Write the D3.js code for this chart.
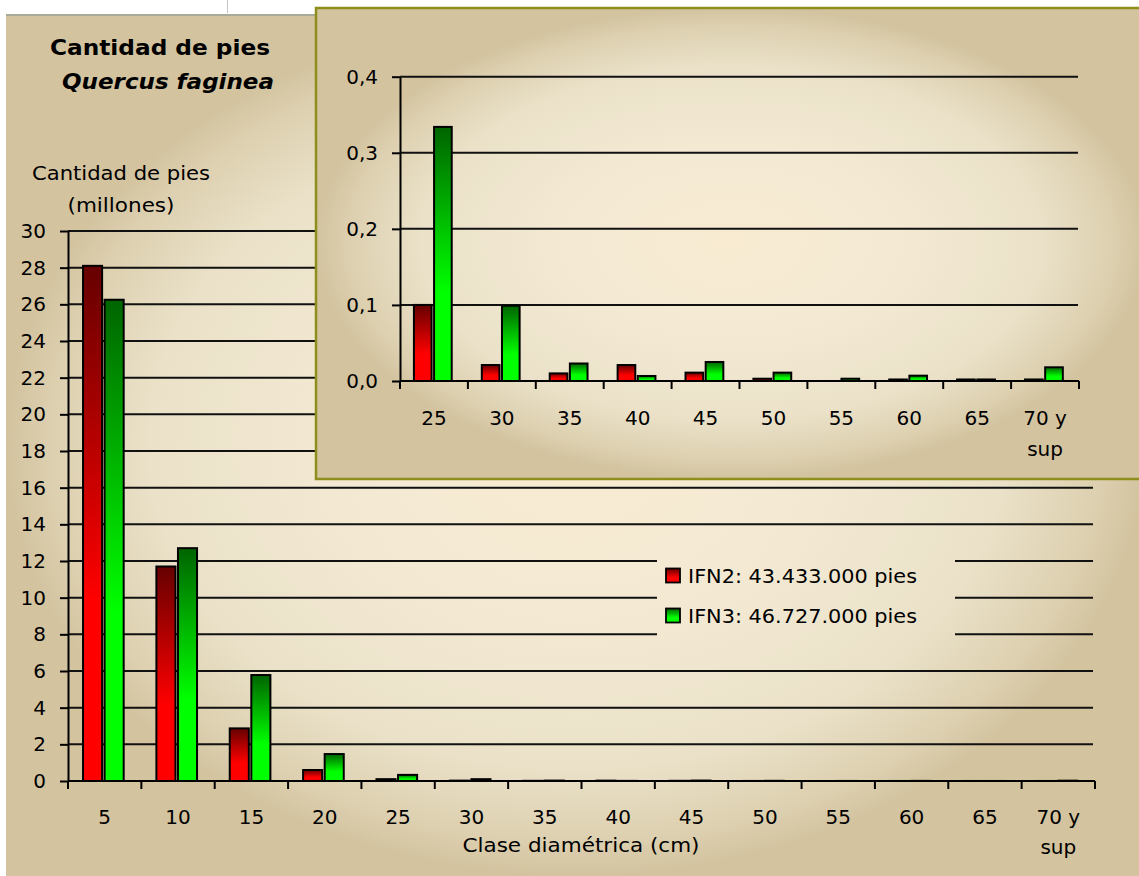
<!DOCTYPE html>
<html>
<head>
<meta charset="utf-8">
<script src="https://cdn.jsdelivr.net/npm/d3@7"></script>
<style>
  html, body { margin: 0; padding: 0; background: #ffffff; }
  svg { display: block; }
  text { font-family: "DejaVu Sans", "Liberation Sans", sans-serif; fill: #000; }
</style>
</head>
<body>
<svg id="chart" width="1139" height="876"></svg>
<script>
// Diameter classes (cm)
const categories = ["5", "10", "15", "20", "25", "30", "35", "40", "45", "50", "55", "60", "65", "70 y sup"];
// Number of trees per class, in millions
const ifn2 = [28.1, 11.7, 2.87, 0.6, 0.10, 0.021, 0.010, 0.021, 0.011, 0.003, 0, 0.002, 0.002, 0.002];
const ifn3 = [26.25, 12.7, 5.78, 1.47, 0.334, 0.099, 0.023, 0.0066, 0.025, 0.011, 0.003, 0.007, 0.002, 0.018];
// Series names and inventory totals (trees)
const seriesNames = ["IFN2", "IFN3"];
const seriesTotals = [43433000, 46727000];
// Axis ticks
const mainTicks = d3.range(0, 31, 2);
const insetTicks = [0, 0.1, 0.2, 0.3, 0.4];
// Classes repeated in the enlarged panel
const insetCategories = categories.slice(4);

const es = d3.formatLocale({ decimal: ",", thousands: ".", grouping: [3], currency: ["", " €"] });
const fmtInset = es.format(".1f");
const fmtTotal = es.format(",d");

const svg = d3.select("#chart");
const defs = svg.append("defs");

function panelGradient(id, cx, cy, rx, ry) {
  const g = defs.append("radialGradient").attr("id", id)
    .attr("gradientUnits", "userSpaceOnUse")
    .attr("cx", 0).attr("cy", 0).attr("r", 1)
    .attr("gradientTransform", `translate(${cx},${cy}) scale(${rx},${ry})`);
  [[0, "#f8ebd2"], [0.45, "#f3e9d3"], [0.75, "#eae1c8"], [0.92, "#ddd0b0"], [1, "#d3c39f"]]
    .forEach(([o, c]) => g.append("stop").attr("offset", o).attr("stop-color", c));
}
panelGradient("bgMain", 576, 445, 570, 431);
panelGradient("bgInset", 731, 243, 415, 236);

function barGradient(id, dark, bright) {
  const g = defs.append("linearGradient").attr("id", id)
    .attr("x1", 0).attr("y1", 0).attr("x2", 0).attr("y2", 1);
  g.append("stop").attr("offset", 0).attr("stop-color", dark);
  g.append("stop").attr("offset", 0.65).attr("stop-color", bright);
  g.append("stop").attr("offset", 1).attr("stop-color", bright);
}
barGradient("gRed", "#660000", "#ff0000");
barGradient("gGreen", "#006400", "#00ff00");
const fills = ["url(#gRed)", "url(#gGreen)"];

// ---------- page decoration ----------
svg.append("line").attr("x1", 227.5).attr("x2", 227.5).attr("y1", 0).attr("y2", 13)
  .attr("stroke", "#c4c4c4").attr("stroke-width", 1);

// ---------- main panel ----------
svg.append("rect").attr("x", 6).attr("y", 14).attr("width", 1150).attr("height", 880)
  .attr("fill", "url(#bgMain)");
svg.append("line").attr("x1", 6).attr("x2", 1139).attr("y1", 15).attr("y2", 15)
  .attr("stroke", "#a7ab9a").attr("stroke-width", 2);

const x = d3.scaleBand().domain(categories).range([68, 1095]);
const y = d3.scaleLinear().domain([0, 30]).range([781, 231]);

// gridlines
svg.append("g").selectAll("line").data(mainTicks.filter(d => d > 0)).join("line")
  .attr("x1", 68).attr("x2", 1093)
  .attr("y1", d => y(d)).attr("y2", d => y(d))
  .attr("stroke", "#111").attr("stroke-width", 2);

function drawBars(g, xs, ys, cats, series) {
  const bw = xs.bandwidth();
  const w = bw * 0.26;
  const groups = g.selectAll("g.cat").data(cats).join("g").attr("class", "cat");
  groups.selectAll("rect").data(c => series.map((s, i) => ({ c, i, v: s[categories.indexOf(c)] })))
    .join("rect")
    .filter(d => d.v > 0)
    .attr("x", d => xs(d.c) + bw * 0.205 + d.i * (w + 2.5))
    .attr("width", w)
    .attr("y", d => ys(d.v))
    .attr("height", d => ys(0) - ys(d.v))
    .attr("fill", d => fills[d.i])
    .attr("stroke", "#000").attr("stroke-width", 2);
}

// legend box (drawn under bars, over gridlines)
const legend = svg.append("g");
legend.append("rect").attr("x", 657).attr("y", 552).attr("width", 298).attr("height", 88)
  .attr("fill", "url(#bgMain)");
seriesNames.forEach((name, i) => {
  const cy = 575.5 + i * 40;
  legend.append("rect").attr("x", 666).attr("y", cy - 7).attr("width", 14).attr("height", 14)
    .attr("fill", fills[i]).attr("stroke", "#000").attr("stroke-width", 1.8);
  legend.append("text").attr("x", 688).attr("y", cy + 7.5)
    .attr("font-size", 20).attr("textLength", 229).attr("lengthAdjust", "spacingAndGlyphs")
    .text(`${name}: ${fmtTotal(seriesTotals[i])} pies`);
});

drawBars(svg.append("g"), x, y, categories, [ifn2, ifn3]);

// y axis
const yAxis = svg.append("g").attr("transform", "translate(68,0)")
  .call(d3.axisLeft(y).tickValues(mainTicks).tickSize(8).tickPadding(14).tickSizeOuter(0));
yAxis.select(".domain").attr("stroke", "#000").attr("stroke-width", 2);
yAxis.selectAll(".tick line").attr("stroke", "#000").attr("stroke-width", 2);
yAxis.selectAll("text").attr("font-size", 20).attr("font-family", "DejaVu Sans").attr("fill", "#000");

// x axis
function bottomAxis(g, xs, yPos, labelY, lineGap) {
  const ax = g.append("g").attr("transform", `translate(0,${yPos})`)
    .call(d3.axisBottom(xs).tickSize(0).tickPadding(0));
  ax.select(".domain").remove();
  ax.selectAll("text").attr("font-size", 20).attr("font-family", "DejaVu Sans").attr("fill", "#000")
    .attr("y", labelY).attr("dy", 0)
    .each(function (d) {
      const parts = d.split(" ");
      if (parts.length > 2) {
        const t = d3.select(this).text(null);
        t.append("tspan").attr("x", 0).attr("y", labelY).text(parts.slice(0, 2).join(" "));
        t.append("tspan").attr("x", 0).attr("y", labelY + lineGap).text(parts.slice(2).join(" "));
      }
    });
  const r = xs.range();
  g.append("line").attr("x1", r[0]).attr("x2", r[1]).attr("y1", yPos).attr("y2", yPos)
    .attr("stroke", "#000").attr("stroke-width", 2);
  g.append("g").selectAll("line").data(xs.domain().map(c => xs(c)).concat([r[1]])).join("line")
    .attr("x1", d => d).attr("x2", d => d).attr("y1", yPos).attr("y2", yPos + 8)
    .attr("stroke", "#000").attr("stroke-width", 2);
}
bottomAxis(svg.append("g"), x, 781, 43, 30);

// titles
svg.append("text").attr("x", 160).attr("y", 55).attr("text-anchor", "middle")
  .attr("font-size", 21).attr("font-weight", "bold").attr("textLength", 220)
  .attr("lengthAdjust", "spacingAndGlyphs").text("Cantidad de pies");
svg.append("text").attr("x", 168).attr("y", 89).attr("text-anchor", "middle")
  .attr("font-size", 21).attr("font-weight", "bold").attr("font-style", "italic")
  .attr("textLength", 212).attr("lengthAdjust", "spacingAndGlyphs").text("Quercus faginea");
svg.append("text").attr("x", 121).attr("y", 180).attr("text-anchor", "middle")
  .attr("font-size", 20).attr("textLength", 178).attr("lengthAdjust", "spacingAndGlyphs")
  .text("Cantidad de pies");
svg.append("text").attr("x", 121).attr("y", 212).attr("text-anchor", "middle")
  .attr("font-size", 20).attr("textLength", 107).attr("lengthAdjust", "spacingAndGlyphs")
  .text("(millones)");
svg.append("text").attr("x", 581).attr("y", 852).attr("text-anchor", "middle")
  .attr("font-size", 20).attr("textLength", 237).attr("lengthAdjust", "spacingAndGlyphs")
  .text("Clase diamétrica (cm)");

// ---------- enlarged panel for the larger classes ----------
const inset = svg.append("g");
inset.append("rect").attr("x", 316).attr("y", 8).attr("width", 840).attr("height", 471)
  .attr("fill", "url(#bgInset)").attr("stroke", "#8e8e1c").attr("stroke-width", 2.5);

const xi = d3.scaleBand().domain(insetCategories).range([400, 1079]);
const yi = d3.scaleLinear().domain([0, 0.4]).range([381, 76.7]);

inset.append("g").selectAll("line").data(insetTicks.filter(d => d > 0)).join("line")
  .attr("x1", 400).attr("x2", 1078)
  .attr("y1", d => yi(d)).attr("y2", d => yi(d))
  .attr("stroke", "#111").attr("stroke-width", 2);

drawBars(inset.append("g"), xi, yi, insetCategories, [ifn2, ifn3]);

const yiAxis = inset.append("g").attr("transform", "translate(400,0)")
  .call(d3.axisLeft(yi).tickValues(insetTicks).tickFormat(fmtInset).tickSize(8).tickPadding(14).tickSizeOuter(0));
yiAxis.select(".domain").attr("stroke", "#000").attr("stroke-width", 2);
yiAxis.selectAll(".tick line").attr("stroke", "#000").attr("stroke-width", 2);
yiAxis.selectAll("text").attr("font-size", 20).attr("font-family", "DejaVu Sans").attr("fill", "#000");

bottomAxis(inset.append("g"), xi, 381, 44, 31);
</script>
</body>
</html>
